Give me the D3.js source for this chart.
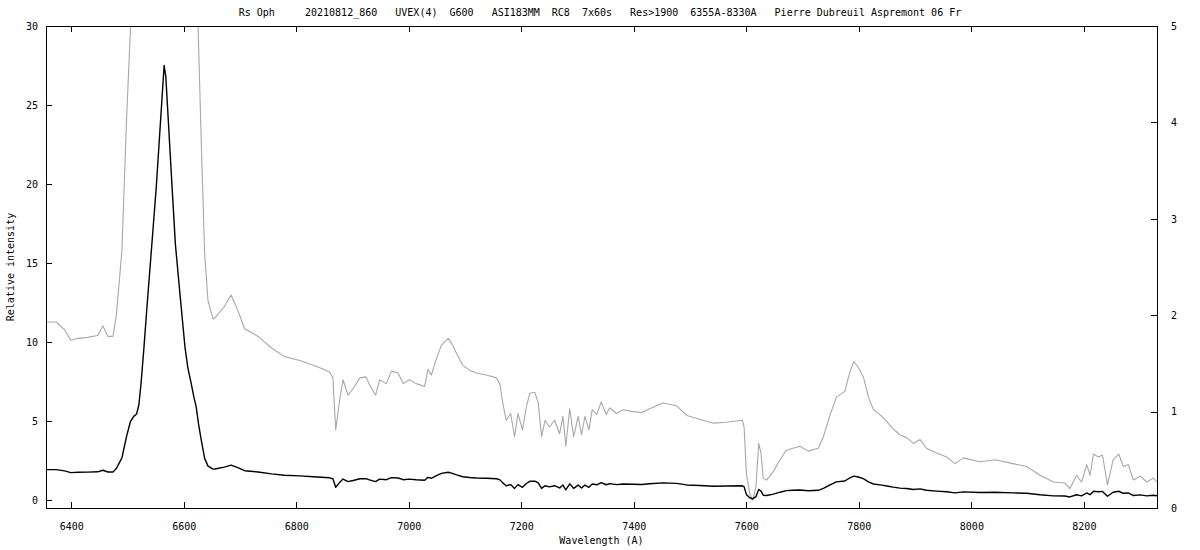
<!DOCTYPE html>
<html>
<head>
<meta charset="utf-8">
<script src="https://cdn.jsdelivr.net/npm/d3@7"></script>
<style>
  html, body { margin: 0; padding: 0; background: #fff; }
  svg { display: block; }
  text { font-family: "DejaVu Sans Mono", "Liberation Mono", monospace; font-size: 10px; fill: #000; }
</style>
</head>
<body>
<svg id="chart" width="1200" height="550"></svg>
<script>
// ---- data ----
const titleText = "Rs Oph     20210812_860   UVEX(4)  G600   ASI183MM  RC8  7x60s   Res>1900  6355A-8330A   Pierre Dubreuil Aspremont 06 Fr";
const xLabel = "Wavelength (A)";
const yLabel = "Relative intensity";
const xTicks = [6400, 6600, 6800, 7000, 7200, 7400, 7600, 7800, 8000, 8200];
const yTicks = [0, 5, 10, 15, 20, 25, 30];
const y2Ticks = [0, 1, 2, 3, 4, 5];

const wavelength = [
  6355, 6357, 6373, 6382, 6388, 6399, 6412, 6429, 6447, 6456, 6465, 6474, 6480, 6486, 6490,
  6498, 6505, 6511, 6516, 6520, 6524, 6529, 6534, 6541, 6551, 6559, 6565, 6568, 6578, 6585,
  6593, 6602, 6607, 6613, 6618, 6622, 6626, 6631, 6637, 6643, 6652, 6655, 6672, 6684, 6696,
  6708, 6732, 6756, 6779, 6806, 6830, 6844, 6859, 6865, 6870, 6877, 6883, 6892, 6901, 6913,
  6924, 6930, 6941, 6948, 6960, 6969, 6981, 6990, 7001, 7013, 7028, 7034, 7040, 7049, 7058,
  7070, 7076, 7085, 7096, 7108, 7120, 7138, 7156, 7162, 7167, 7173, 7181, 7188, 7194, 7202,
  7209, 7215, 7224, 7230, 7236, 7242, 7250, 7259, 7268, 7274, 7279, 7286, 7293, 7301, 7307,
  7313, 7320, 7326, 7334, 7342, 7351, 7357, 7369, 7381, 7399, 7414, 7428, 7452, 7476, 7494,
  7517, 7541, 7565, 7593, 7596, 7600, 7606, 7611, 7617, 7622, 7626, 7630, 7636, 7648, 7660,
  7671, 7683, 7695, 7710, 7728, 7737, 7748, 7760, 7775, 7784, 7791, 7799, 7808, 7817, 7826,
  7841, 7852, 7861, 7873, 7885, 7897, 7909, 7920, 7938, 7956, 7971, 7986, 8015, 8042, 8074,
  8098, 8122, 8146, 8166, 8175, 8187, 8196, 8205, 8211, 8217, 8226, 8233, 8242, 8252, 8262,
  8270, 8279, 8288, 8300, 8312, 8323, 8330
];
const intensity = [
  1.93, 1.93, 1.93, 1.88, 1.85, 1.74, 1.76, 1.77, 1.79, 1.89, 1.78, 1.78, 2.00, 2.40, 2.68,
  4.00, 4.96, 5.30, 5.45, 6.00, 7.40, 9.60, 12.0, 15.2, 19.8, 24.2, 27.5, 26.8, 20.5, 16.2,
  13.1, 9.70, 8.40, 7.40, 6.50, 5.90, 4.85, 3.80, 2.64, 2.15, 1.96, 1.97, 2.09, 2.21, 2.05,
  1.86, 1.78, 1.66, 1.57, 1.53, 1.48, 1.45, 1.41, 1.35, 0.81, 1.12, 1.33, 1.17, 1.24, 1.35,
  1.36, 1.28, 1.17, 1.33, 1.29, 1.42, 1.40, 1.29, 1.33, 1.29, 1.26, 1.44, 1.38, 1.55, 1.69,
  1.76, 1.71, 1.60, 1.48, 1.43, 1.40, 1.38, 1.35, 1.28, 1.09, 0.91, 0.98, 0.74, 0.98, 0.81,
  1.05, 1.19, 1.20, 1.09, 0.74, 0.91, 0.84, 0.91, 0.77, 0.95, 0.64, 1.03, 0.74, 0.95, 0.76,
  0.95, 0.81, 1.02, 0.97, 1.10, 0.97, 1.04, 0.98, 1.02, 1.00, 0.99, 1.03, 1.09, 1.06, 0.96,
  0.92, 0.88, 0.89, 0.91, 0.84, 0.36, 0.15, 0.08, 0.22, 0.67, 0.57, 0.31, 0.29, 0.38, 0.50,
  0.60, 0.62, 0.64, 0.59, 0.62, 0.74, 0.95, 1.15, 1.21, 1.41, 1.52, 1.46, 1.36, 1.15, 1.02,
  0.95, 0.88, 0.82, 0.76, 0.73, 0.67, 0.71, 0.62, 0.57, 0.53, 0.46, 0.52, 0.48, 0.50, 0.46,
  0.43, 0.34, 0.27, 0.26, 0.20, 0.34, 0.27, 0.45, 0.34, 0.56, 0.53, 0.55, 0.24, 0.50, 0.56,
  0.43, 0.45, 0.29, 0.33, 0.27, 0.31, 0.27
];

// ---- layout ----
const mLeft = 46, mRight = 1157, mTop = 26, mBottom = 508;
const svg = d3.select("#chart");

const x = d3.scaleLinear().domain([6355, 8330]).range([mLeft, mRight]);
const y = d3.scaleLinear().domain([-0.5, 30]).range([mBottom, mTop]);
const y2 = d3.scaleLinear().domain([0, 5]).range([mBottom, mTop]);

const pts = wavelength.map((w, i) => [w, intensity[i]]);

svg.append("defs").append("clipPath").attr("id", "plotclip")
  .append("rect").attr("x", mLeft).attr("y", mTop).attr("width", mRight - mLeft).attr("height", mBottom - mTop);

const plot = svg.append("g").attr("clip-path", "url(#plotclip)");

// gray: same spectrum on right axis (0-5)
plot.append("path")
  .attr("d", d3.line().x(d => x(d[0])).y(d => y2(d[1]))(pts))
  .attr("fill", "none").attr("stroke", "#a8a8a8").attr("stroke-width", 1.1)
  .attr("stroke-linejoin", "round");

// black: spectrum on left axis
plot.append("path")
  .attr("d", d3.line().x(d => x(d[0])).y(d => y(d[1]))(pts))
  .attr("fill", "none").attr("stroke", "#000").attr("stroke-width", 1.4)
  .attr("stroke-linejoin", "round");

// axes with inward ticks
const tickLen = 6;
const axB = svg.append("g").attr("transform", `translate(0,${mBottom})`)
  .call(d3.axisBottom(x).tickValues(xTicks).tickSize(-tickLen).tickPadding(tickLen + 9).tickFormat(d3.format("d")));
const axT = svg.append("g").attr("transform", `translate(0,${mTop})`)
  .call(d3.axisTop(x).tickValues(xTicks).tickSize(-tickLen).tickFormat(""));
const axL = svg.append("g").attr("transform", `translate(${mLeft},0)`)
  .call(d3.axisLeft(y).tickValues(yTicks).tickSize(-tickLen).tickPadding(tickLen + 2).tickFormat(d3.format("d")));
const axR = svg.append("g").attr("transform", `translate(${mRight},0)`)
  .call(d3.axisRight(y2).tickValues(y2Ticks).tickSize(-tickLen).tickPadding(tickLen + 8).tickFormat(d3.format("d")));

[axB, axT, axL, axR].forEach(a => {
  a.select(".domain").remove();
  a.selectAll(".tick line").attr("stroke", "#000").attr("stroke-width", 1).attr("shape-rendering", "crispEdges");
  a.selectAll(".tick text").attr("font-family", null).attr("font-size", null).attr("fill", "#000");
});

// frame
svg.append("rect").attr("x", mLeft).attr("y", mTop).attr("width", mRight - mLeft).attr("height", mBottom - mTop)
  .attr("fill", "none").attr("stroke", "#000").attr("stroke-width", 1).attr("shape-rendering", "crispEdges");

// texts
svg.append("text").attr("x", 600).attr("y", 16).attr("text-anchor", "middle")
  .style("white-space", "pre").text(titleText);
svg.append("text").attr("x", (mLeft + mRight) / 2).attr("y", 544).attr("text-anchor", "middle").text(xLabel);
svg.append("text").attr("transform", `translate(14,${(mTop + mBottom) / 2}) rotate(-90)`)
  .attr("text-anchor", "middle").text(yLabel);
</script>
</body>
</html>
